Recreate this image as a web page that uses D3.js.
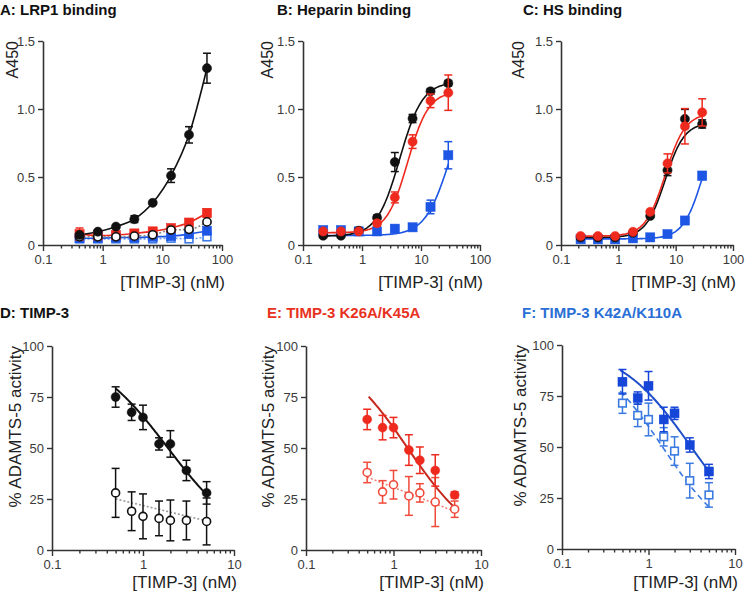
<!DOCTYPE html>
<html><head><meta charset="utf-8">
<script src="https://cdn.jsdelivr.net/npm/d3@7"></script>
<style>
body{margin:0;background:#fff;}
text{font-family:"Liberation Sans",Arial,Helvetica,sans-serif;}
</style>
</head><body>
<svg id="c" width="745" height="595"></svg>
<script>
// ---------- DATA ----------
// concentrations (nM)
const xA = [0.41, 0.83, 1.67, 3.4, 6.9, 14, 28, 56];
const xBC = [0.22, 0.44, 0.88, 1.8, 3.6, 7.2, 14.5, 29];
const xDEF = [0.5, 0.75, 1, 1.5, 2, 3, 5];

// Panel A: LRP1 binding (A450)
const aWT      = [0.074, 0.098, 0.135, 0.19, 0.31, 0.51, 0.81, 1.30];
const aWTErr   = [0.01, 0.01, 0.01, 0.025, 0.01, 0.05, 0.06, 0.11];
const aWTOpen  = [0.06, 0.06, 0.06, 0.065, 0.075, 0.11, 0.115, 0.17];
const aWTOpenErr = [0.01, 0.01, 0.01, 0.01, 0.01, 0.01, 0.01, 0.015];
const aK26     = [0.08, 0.07, 0.074, 0.085, 0.10, 0.125, 0.165, 0.235];
const aK26Err  = [0.045, 0.01, 0.01, 0.01, 0.01, 0.01, 0.01, 0.03];
const aK42     = [0.05, 0.05, 0.055, 0.055, 0.06, 0.065, 0.08, 0.105];
const aK42Err  = [0.01, 0.01, 0.01, 0.01, 0.01, 0.01, 0.01, 0.02];
const aK42Open = [0.045, 0.045, 0.045, 0.045, 0.045, 0.05, 0.045, 0.06];
const aK42OpenErr = [0.01, 0.01, 0.01, 0.01, 0.01, 0.01, 0.01, 0.01];

// Panel B: heparin binding
const bWT     = [0.068, 0.068, 0.105, 0.20, 0.61, 0.93, 1.13, 1.19];
const bWTErr  = [0.01, 0.01, 0.01, 0.02, 0.07, 0.03, 0.02, 0.02];
const bK26    = [0.10, 0.10, 0.10, 0.16, 0.35, 0.76, 1.06, 1.12];
const bK26Err = [0.01, 0.01, 0.01, 0.02, 0.04, 0.05, 0.05, 0.13];
const bK42    = [0.11, 0.11, 0.10, 0.10, 0.12, 0.13, 0.28, 0.66];
const bK42Err = [0.02, 0.01, 0.01, 0.01, 0.01, 0.01, 0.05, 0.10];
// fitted curves [bottom, top, EC50, hill]
const bFitWT  = [0.065, 1.2, 4.35, 2.25];
const bFitK26 = [0.09, 1.13, 5.95, 2.45];
const bFitK42 = [0.07, 1.2, 31.1, 2.08];

// Panel C: HS binding
const cWT     = [0.056, 0.056, 0.056, 0.09, 0.214, 0.55, 0.927, 0.89];
const cWTErr  = [0.01, 0.01, 0.01, 0.01, 0.01, 0.04, 0.07, 0.03];
const cK26    = [0.066, 0.066, 0.066, 0.097, 0.244, 0.60, 0.873, 0.975];
const cK26Err = [0.01, 0.01, 0.01, 0.01, 0.01, 0.07, 0.13, 0.10];
const cK42    = [0.042, 0.042, 0.042, 0.049, 0.056, 0.08, 0.18, 0.51];
const cK42Err = [0.005, 0.005, 0.005, 0.005, 0.005, 0.01, 0.01, 0.03];
const cFitWT  = [0.055, 0.9, 6.56, 2.6];
const cFitK26 = [0.065, 0.97, 6.6, 2.5];
const cFitK42 = [0.045, 1.0, 30.6, 2.5];

// Panels D-F: % ADAMTS-5 activity
const dFilled = [75, 67.5, 65, 52, 52, 39, 28];
const dFilledErr = [5, 4, 6, 3, 6.5, 5, 5.5];
const dOpen = [28, 19, 16.5, 15.5, 14.5, 14.5, 14];
const dOpenErr = [12, 9.5, 11, 8.5, 10, 9.5, 11.5];
const eFilled = [64, 60, 60, 49, 44, 39, 27];
const eFilledErr = [5, 6, 5, 7.5, 6.5, 7.7, 1.5];
const eOpen = [38, 28.5, 32, 26.5, 28, 23.5, 20];
const eOpenErr = [5, 5.5, 7, 9.5, 4.5, 12, 4];
const fFilled = [82, 74, 80, 63.5, 66.5, 51, 38];
const fFilledErr = [6, 3, 7, 6, 3, 3.5, 3.5];
const fOpen = [71.5, 65.5, 63.5, 55, 48, 33.5, 26.5];
const fOpenErr = [5, 5.5, 8, 4.5, 7, 8.5, 6];
// inhibition fits [top, bottom, IC50, hill]; log-linear fits [intercept at 1 nM, slope per decade]
const dFitFilled = [100, 0, 1.88, 1.01];
const dFitOpen   = [21.8, -10.8];
const eFitFilled = [100, 0, 1.45, 1.08];
const eFitOpen   = [30.7, -16.8];
const fFitFilled = [100, 0, 3.12, 1.035];
const fFitOpen   = [100, 0, 1.455, 1.09];

// tick labels
const bindYTicks = [0, 0.5, 1.0, 1.5];
const bindYLabels = ["0", "0.5", "1.0", "1.5"];
const actYTicks = [0, 25, 50, 75, 100];
const actYLabels = ["0", "25", "50", "75", "100"];
const xMajor3 = [0.1, 1, 10, 100];
const xMajor2 = [0.1, 1, 10];
const xMajorLabels = {0.1: "0.1", 1: "1", 10: "10", 100: "100"};

// ---------- COLOURS ----------
const BLACK = "#111", RED = "#ee2a1e", BLUE = "#1d56e4";

// ---------- DRAWING ----------
const svg = d3.select("#c");

function hill4(p, xv) { return p[0] + (p[1] - p[0]) / (1 + Math.pow(p[2] / xv, p[3])); }
function inhib(p, xv) { return p[1] + (p[0] - p[1]) / (1 + Math.pow(xv / p[2], p[3])); }
function loglin(p, xv) { return p[0] + p[1] * Math.log10(xv); }

function drawPanel(p) {
  const x = d3.scaleLog().domain(p.xDomain).range([p.x0, p.x1]);
  const y = d3.scaleLinear().domain(p.yDomain).range([p.y0, p.y1]);
  const g = svg.append("g");

  // axes
  const minor = [];
  p.xMajor.slice(0, -1).forEach(d => { for (let k = 2; k <= 9; k++) minor.push(d * k); });
  const gxm = g.append("g").attr("transform", `translate(0,${p.y0})`)
    .call(d3.axisBottom(x).tickValues(minor).tickFormat("").tickSize(3.5).tickSizeOuter(0));
  gxm.select(".domain").remove();
  const gx = g.append("g").attr("transform", `translate(0,${p.y0})`)
    .call(d3.axisBottom(x).tickValues(p.xMajor).tickFormat(d => xMajorLabels[d]).tickSize(6).tickPadding(4).tickSizeOuter(0));
  const gy = g.append("g").attr("transform", `translate(${p.x0},0)`)
    .call(d3.axisLeft(y).tickValues(p.yTicks).tickFormat((d, i) => p.yLabels[i]).tickSize(5).tickPadding(3).tickSizeOuter(0));
  [gx, gy, gxm].forEach(a => {
    a.selectAll(".domain").attr("stroke", "#333").attr("stroke-width", 1.6);
    a.selectAll(".tick line").attr("stroke", "#333").attr("stroke-width", 1.4);
    a.selectAll(".tick text").attr("fill", "#3a3a3a").style("font-size", "13px")
      .style("font-family", '"Liberation Sans",Arial,sans-serif');
  });

  // titles and labels
  g.append("text").attr("x", p.titleX).attr("y", p.titleY).text(p.title)
    .attr("fill", p.titleColor || "#111").style("font-size", "15px").style("font-weight", "bold");
  g.append("text").attr("transform", `translate(${p.ylabX},${p.y1})rotate(-90)`)
    .attr("text-anchor", "end").attr("dy", "0.35em").text(p.ylab)
    .attr("fill", "#222").style("font-size", p.ylabSize + "px");
  g.append("text").attr("x", p.x1 + 3).attr("y", p.xlabY).attr("text-anchor", "end")
    .text("[TIMP-3] (nM)").attr("fill", "#222").style("font-size", "17px");

  // fit / connecting lines
  p.series.forEach(s => {
    let pts;
    if (s.fit) {
      const lo = Math.log10(s.fitRange[0]), hi = Math.log10(s.fitRange[1]);
      pts = d3.range(0, 101).map(i => { const xv = Math.pow(10, lo + (hi - lo) * i / 100); return [xv, s.fitFn(s.fit, xv)]; });
    } else {
      pts = s.x.map((xv, i) => [xv, s.y[i]]);
    }
    g.append("path").datum(pts)
      .attr("d", d3.line().x(d => x(d[0])).y(d => y(d[1])).curve(d3.curveMonotoneX))
      .attr("fill", "none").attr("stroke", s.lineColor).attr("stroke-width", s.lineWidth || 1.6)
      .attr("stroke-dasharray", s.dash || null);
  });

  // error bars and markers
  p.series.forEach(s => {
    const col = s.markColor;
    s.x.forEach((xv, i) => {
      const cx = x(xv), top = y(s.y[i] + s.err[i]), bot = y(s.y[i] - s.err[i]);
      const eb = g.append("g").attr("stroke", col).attr("stroke-width", 1.5);
      eb.append("line").attr("x1", cx).attr("x2", cx).attr("y1", top).attr("y2", bot);
      eb.append("line").attr("x1", cx - 4).attr("x2", cx + 4).attr("y1", top).attr("y2", top);
      eb.append("line").attr("x1", cx - 4).attr("x2", cx + 4).attr("y1", bot).attr("y2", bot);
    });
    s.x.forEach((xv, i) => {
      const cx = x(xv), cy = y(s.y[i]);
      const fill = s.open ? "#fff" : col;
      if (s.shape === "circle") {
        g.append("circle").attr("cx", cx).attr("cy", cy).attr("r", s.open ? p.r - 0.5 : p.r)
          .attr("fill", fill).attr("stroke", col).attr("stroke-width", s.open ? 1.6 : 0.5);
      } else {
        const h = s.open ? p.r - 0.7 : p.r;
        g.append("rect").attr("x", cx - h).attr("y", cy - h).attr("width", 2 * h).attr("height", 2 * h)
          .attr("fill", fill).attr("stroke", col).attr("stroke-width", s.open ? 1.6 : 0.5);
      }
    });
  });
}

const bindBase = { xDomain: [0.1, 100], yDomain: [0, 1.5], y0: 245, y1: 41, xMajor: xMajor3,
  yTicks: bindYTicks, yLabels: bindYLabels, titleY: 15, ylab: "A450", ylabSize: 16, xlabY: 288, r: 4.6 };
const actBase = { xDomain: [0.1, 10], yDomain: [0, 100], xMajor: xMajor2,
  yTicks: actYTicks, yLabels: actYLabels, titleY: 318, ylab: "% ADAMTS-5 activity", ylabSize: 17, xlabY: 588, r: 4.5 };

drawPanel(Object.assign({}, bindBase, { x0: 43, x1: 222, title: "A: LRP1 binding", titleX: 0, ylabX: 12,
  series: [
    { x: xA, y: aK42Open, err: aK42OpenErr, shape: "square", open: true, markColor: "#3d7ae8", lineColor: "#6f9ff0", dash: "2,2" },
    { x: xA, y: aK42, err: aK42Err, shape: "square", markColor: BLUE, lineColor: BLUE },
    { x: xA, y: aK26, err: aK26Err, shape: "square", markColor: RED, lineColor: RED },
    { x: xA, y: aWTOpen, err: aWTOpenErr, shape: "circle", open: true, markColor: BLACK, lineColor: "#888", dash: "2,2" },
    { x: xA, y: aWT, err: aWTErr, shape: "circle", markColor: BLACK, lineColor: BLACK }
  ] }));

drawPanel(Object.assign({}, bindBase, { x0: 303, x1: 480, title: "B: Heparin binding", titleX: 277, ylabX: 267,
  series: [
    { x: xBC, y: bK42, err: bK42Err, shape: "square", markColor: BLUE, lineColor: BLUE, fit: bFitK42, fitFn: hill4, fitRange: [0.22, 29] },
    { x: xBC, y: bWT, err: bWTErr, shape: "circle", markColor: BLACK, lineColor: BLACK, fit: bFitWT, fitFn: hill4, fitRange: [0.22, 29] },
    { x: xBC, y: bK26, err: bK26Err, shape: "circle", markColor: RED, lineColor: RED, fit: bFitK26, fitFn: hill4, fitRange: [0.22, 29] }
  ] }));

drawPanel(Object.assign({}, bindBase, { x0: 561, x1: 733, title: "C: HS binding", titleX: 523, ylabX: 518,
  series: [
    { x: xBC, y: cK42, err: cK42Err, shape: "square", markColor: BLUE, lineColor: BLUE, fit: cFitK42, fitFn: hill4, fitRange: [0.22, 29] },
    { x: xBC, y: cWT, err: cWTErr, shape: "circle", markColor: BLACK, lineColor: BLACK, fit: cFitWT, fitFn: hill4, fitRange: [0.22, 29] },
    { x: xBC, y: cK26, err: cK26Err, shape: "circle", markColor: RED, lineColor: RED, fit: cFitK26, fitFn: hill4, fitRange: [0.22, 29] }
  ] }));

drawPanel(Object.assign({}, actBase, { x0: 52, x1: 234, y0: 550, y1: 346, title: "D: TIMP-3", titleX: 0, ylabX: 15,
  series: [
    { x: xDEF, y: dOpen, err: dOpenErr, shape: "circle", open: true, markColor: BLACK, lineColor: "#999", dash: "2,2", fit: dFitOpen, fitFn: loglin, fitRange: [0.5, 5.2] },
    { x: xDEF, y: dFilled, err: dFilledErr, shape: "circle", markColor: BLACK, lineColor: BLACK, lineWidth: 2, fit: dFitFilled, fitFn: inhib, fitRange: [0.5, 5.2] }
  ] }));

drawPanel(Object.assign({}, actBase, { x0: 306, x1: 481, y0: 550, y1: 346, title: "E: TIMP-3 K26A/K45A", titleX: 267, titleColor: "#e8321e", ylabX: 268,
  series: [
    { x: xDEF, y: eOpen, err: eOpenErr, shape: "circle", open: true, markColor: "#f04a3a", lineColor: "#f08078", dash: "2,2", fit: eFitOpen, fitFn: loglin, fitRange: [0.5, 5.1] },
    { x: xDEF, y: eFilled, err: eFilledErr, shape: "circle", markColor: RED, lineColor: "#c62a1e", lineWidth: 2, fit: eFitFilled, fitFn: inhib, fitRange: [0.52, 5.1] }
  ] }));

drawPanel(Object.assign({}, actBase, { x0: 562, x1: 735, y0: 549, y1: 345, title: "F: TIMP-3 K42A/K110A", titleX: 522, titleColor: "#2a6fd6", ylabX: 520,
  series: [
    { x: xDEF, y: fOpen, err: fOpenErr, shape: "square", open: true, markColor: "#3a7ae0", lineColor: "#3a7ae0", dash: "6,4", fit: fFitOpen, fitFn: inhib, fitRange: [0.47, 5.1] },
    { x: xDEF, y: fFilled, err: fFilledErr, shape: "square", markColor: "#1546d8", lineColor: "#1f4fc8", lineWidth: 2, fit: fFitFilled, fitFn: inhib, fitRange: [0.47, 5.1] }
  ] }));
</script>
</body></html>
